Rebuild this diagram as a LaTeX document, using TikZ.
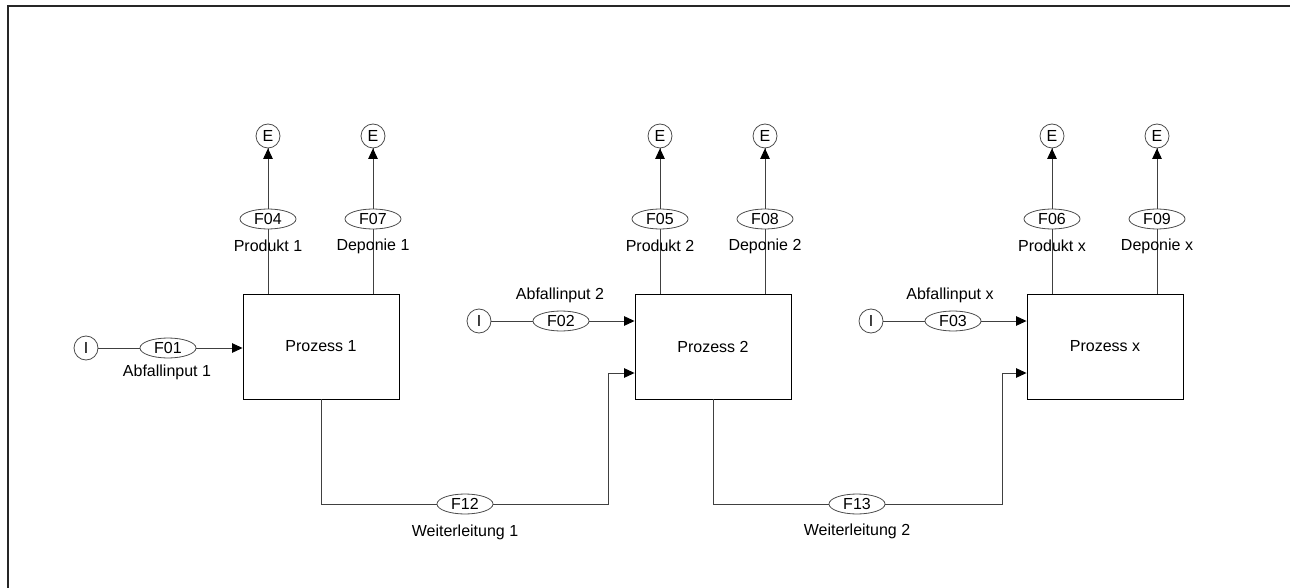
\documentclass[tikz,border=0pt]{standalone}
\usepackage{fontspec}
\setmainfont{Liberation Sans}
\usetikzlibrary{arrows.meta,shapes.geometric}
\begin{document}
\begin{tikzpicture}[x=1pt,y=-1pt,font=\fontsize{16}{18}\selectfont,
  proc/.style={draw=black,line width=0.9pt,minimum width=156pt,minimum height=105pt,inner sep=0pt},
  flow/.style={ellipse,draw=black!70,fill=white,line width=0.8pt,minimum width=56pt,minimum height=20pt,inner sep=0pt},
  term/.style={circle,draw=black!70,fill=white,line width=0.8pt,minimum size=24pt,inner sep=0pt},
  conn/.style={draw=black!75,line width=0.9pt},
  arr/.style={conn,-{Triangle[length=10.5pt,width=9.5pt,color=black]}},
  lbl/.style={inner sep=0pt}]
\useasboundingbox (0,0) rectangle (1290,588);
\draw[line width=1.8pt,black!85] (8,588) -- (8,6) -- (1290,6);

% processes
\node[proc] (p1) at (321,346.5) {Prozess 1};
\node[proc] (p2) at (713,346.5) {Prozess 2};
\node[proc] (p3) at (1105,346.5) {Prozess x};

% outputs
\foreach \p/\xa/\xb/\fa/\fb/\la/\lb in {p1/268/373/F04/F07/Produkt 1/Deponie 1,
                                       p2/660/765/F05/F08/Produkt 2/Deponie 2,
                                       p3/1052/1157/F06/F09/Produkt x/Deponie x}{
  \node[term] (\p ea) at (\xa,136) {E};
  \node[term] (\p eb) at (\xb,136) {E};
  \coordinate (\p ta) at (\xa,294);
  \coordinate (\p tb) at (\xb,294);
  \draw[conn] (\p ta) -- (\p ea.south);
  \draw[conn] (\p tb) -- (\p eb.south);
  \node[flow] (\p fa) at (\xa,219) {\fa};
  \node[flow] (\p fb) at (\xb,219) {\fb};
  \draw[arr] (\p fa) -- (\p ea);
  \draw[arr] (\p fb) -- (\p eb);
  \node[lbl] (\p la) at (\xa,246) {\la};
  \node[lbl] (\p lb) at (\xb,246) {\lb};
}

% inputs
\node[term] (i1) at (86,348) {I};
\node[flow] (f01) at (168,348) {F01};
\draw[conn] (i1) -- (f01);
\draw[arr] (f01) -- (f01 -| p1.west);
\node[lbl] (l01) at (167,372) {Abfallinput 1};

\node[term] (i2) at (479,321) {I};
\node[flow] (f02) at (561,321) {F02};
\draw[conn] (i2) -- (f02);
\draw[arr] (f02) -- (f02 -| p2.west);
\node[lbl] (l02) at (560,295) {Abfallinput 2};

\node[term] (i3) at (871,321) {I};
\node[flow] (f03) at (953,321) {F03};
\draw[conn] (i3) -- (f03);
\draw[arr] (f03) -- (f03 -| p3.west);
\node[lbl] (l03) at (950,295) {Abfallinput x};

% forwarding
\node[flow] (f12) at (465,504) {F12};
\node[lbl] (l12) at (465,532) {Weiterleitung 1};
\coordinate (k1) at (608,373);
\draw[conn] (p1.south) |- (f12);
\draw[arr] (f12) -| (k1) -- (k1 -| p2.west);

\node[flow] (f13) at (857,504) {F13};
\node[lbl] (l13) at (857,531) {Weiterleitung 2};
\coordinate (k2) at (1002,373);
\draw[conn] (p2.south) |- (f13);
\draw[arr] (f13) -| (k2) -- (k2 -| p3.west);
\end{tikzpicture}
\end{document}
